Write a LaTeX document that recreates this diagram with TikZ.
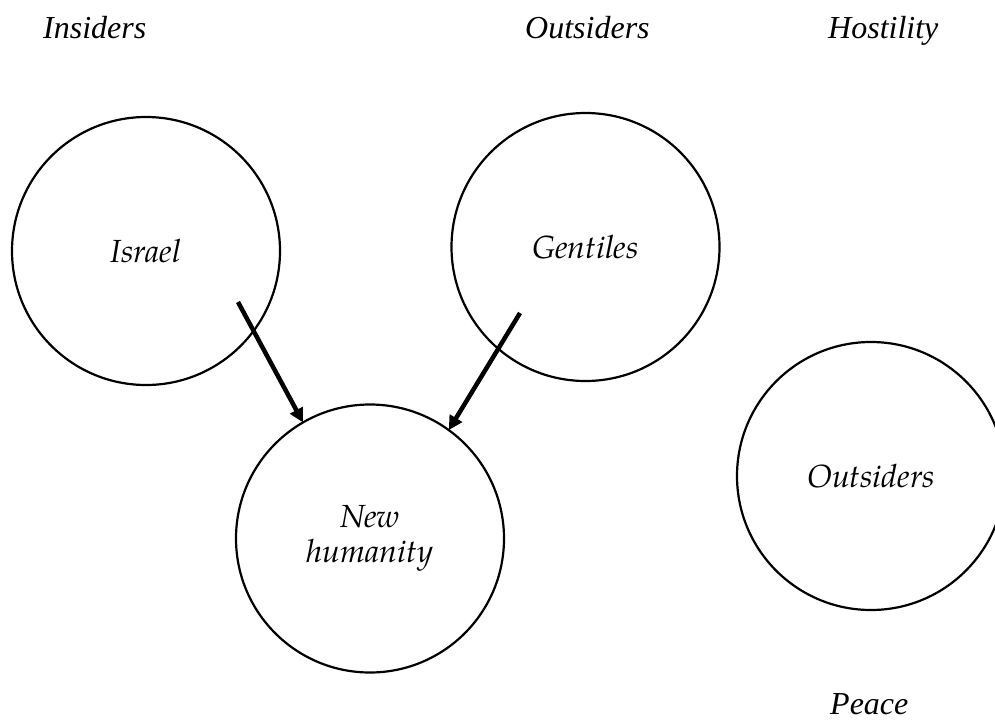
\documentclass[tikz,border=0pt]{standalone}
\usepackage{fontspec}
\setmainfont{Liberation Serif}
\newfontfamily\palfont{texgyrepagella-italic.otf}
\usetikzlibrary{arrows.meta}
\newcommand\palit{\palfont\fontsize{32}{35}\selectfont}
\newcommand\timesit{\fontsize{32}{35}\selectfont\itshape}
\tikzset{
  group/.style={circle,draw,line width=2.2pt,minimum size=268pt,inner sep=0pt,outer sep=0pt,align=center,font=\palit},
  heading/.style={anchor=base west,inner sep=0pt,font=\timesit},
  flow/.style={line width=4.5pt,-{Triangle[length=14pt,width=14pt]}}
}
\begin{document}
\begin{tikzpicture}[x=1pt,y=-1pt]
\useasboundingbox (0,0) rectangle (995,720);
\node[heading] (insiders) at (43,38) {Insiders};
\node[heading] (outsiders) at (525,38) {Outsiders};
\node[heading] (hostility) at (828,38) {Hostility};
\node[heading] (peace) at (830,714) {Peace};
\node[group] (israel) at (146,251) {Israel};
\node[group] (gentiles) at (585.5,247) {Gentiles};
\node[group] (newh) at (370,538.5) {New\\humanity};
\node[group] (outs) at (871,476) {Outsiders};
\coordinate (s1) at (238,302);
\coordinate (s2) at (520,313);
\draw[flow] (s1) -- (newh.120.3);
\draw[flow] (s2) -- (newh.54);
\end{tikzpicture}
\end{document}
